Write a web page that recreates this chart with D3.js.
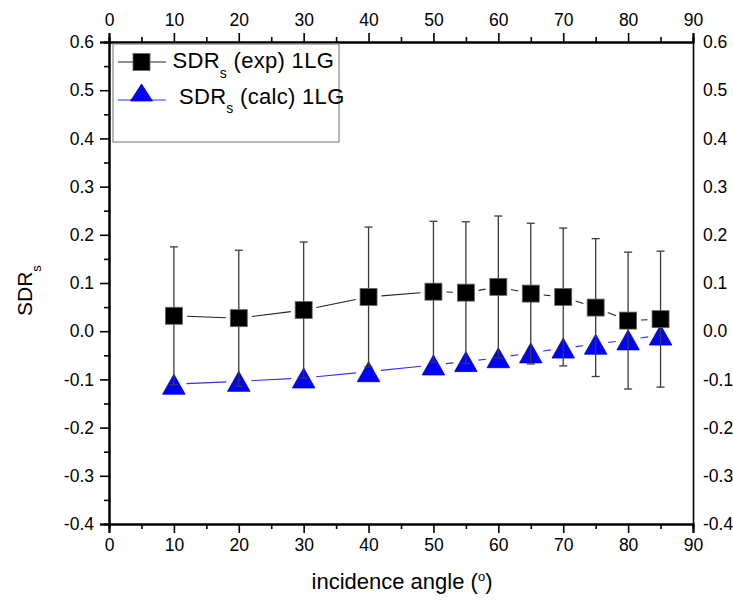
<!DOCTYPE html>
<html>
<head>
<meta charset="utf-8">
<script src="https://cdn.jsdelivr.net/npm/d3@7"></script>
<style>
  html, body { margin: 0; padding: 0; background: #fff; }
  svg { display: block; font-family: "Liberation Sans", Arial, sans-serif; }
</style>
</head>
<body>
<svg id="chart" width="733" height="603"></svg>
<script>
// Incidence angles (degrees)
const angles = [10, 20, 30, 40, 50, 55, 60, 65, 70, 75, 80, 85];
// Measured SDR_s and its uncertainty
const sdrExp = [0.032, 0.027, 0.044, 0.071, 0.082, 0.080, 0.092, 0.078, 0.071, 0.049, 0.022, 0.025];
const sdrExpErr = [0.143, 0.141, 0.141, 0.145, 0.146, 0.147, 0.147, 0.146, 0.143, 0.143, 0.142, 0.141];
// Calculated SDR_s
const sdrCalc = [-0.110, -0.104, -0.097, -0.084, -0.070, -0.063, -0.055, -0.045, -0.035, -0.027, -0.018, -0.008];

const xTicks = [0, 10, 20, 30, 40, 50, 60, 70, 80, 90];
const xMinor = [5, 15, 25, 35, 45, 55, 65, 75, 85];
const yTicks = [-0.4, -0.3, -0.2, -0.1, 0.0, 0.1, 0.2, 0.3, 0.4, 0.5, 0.6];
const yMinor = [-0.35, -0.25, -0.15, -0.05, 0.05, 0.15, 0.25, 0.35, 0.45, 0.55];

const svg = d3.select("#chart");
const L = 109, R = 693, T = 42, B = 524;

const x = d3.scaleLinear().domain([0, 90]).range([L, R]);
const y = d3.scaleLinear().domain([-0.4, 0.6]).range([B, T]);
// plain hyphen for negative labels
const fmtY = v => d3.format(".1f")(v).replace("\u2212", "-");

const pts = angles.map((a, i) => ({ a, e: sdrExp[i], err: sdrExpErr[i], c: sdrCalc[i] }));

// Axes: left, bottom, top with outward ticks; right axis shows labels only
function drawAxis(axis, transform) {
  const g = svg.append("g").attr("transform", transform).call(axis);
  g.select(".domain").attr("stroke", "#000").attr("stroke-width", 2);
  g.selectAll(".tick line").attr("stroke", "#000").attr("stroke-width", 1.6);
  g.selectAll(".tick text").attr("fill", "#000").style("font-size", "17.5px")
    .style("font-family", "'Liberation Sans', Arial, sans-serif");
  return g;
}

// minor ticks first (no labels)
drawAxis(d3.axisLeft(y).tickValues(yMinor).tickSize(5).tickFormat(""), `translate(${L},0)`);
drawAxis(d3.axisBottom(x).tickValues(xMinor).tickSize(5).tickFormat(""), `translate(0,${B})`);
drawAxis(d3.axisTop(x).tickValues(xMinor).tickSize(5).tickFormat(""), `translate(0,${T})`);

drawAxis(d3.axisLeft(y).tickValues(yTicks).tickSize(9).tickPadding(6).tickFormat(fmtY), `translate(${L},0)`);
drawAxis(d3.axisBottom(x).tickValues(xTicks).tickSize(9).tickPadding(6).tickFormat(d3.format("d")), `translate(0,${B})`);
drawAxis(d3.axisTop(x).tickValues(xTicks).tickSize(9).tickPadding(7).tickFormat(d3.format("d")), `translate(0,${T})`);
const gr = drawAxis(d3.axisRight(y).tickValues(yTicks).tickSize(0).tickPadding(10).tickFormat(fmtY), `translate(${R},0)`);
gr.select(".domain").attr("stroke-width", 1.6);

// Connecting lines drawn with small gaps around the symbols
function gappedSegments(key, gap) {
  const segs = [];
  for (let i = 0; i < pts.length - 1; i++) {
    const x1 = x(pts[i].a), y1 = y(pts[i][key]);
    const x2 = x(pts[i + 1].a), y2 = y(pts[i + 1][key]);
    const len = Math.hypot(x2 - x1, y2 - y1);
    if (len <= 2 * gap) continue;
    const ux = (x2 - x1) / len, uy = (y2 - y1) / len;
    segs.push([x1 + ux * gap, y1 + uy * gap, x2 - ux * gap, y2 - uy * gap]);
  }
  return segs;
}

const plot = svg.append("g");

// calculated series: line + triangles
plot.selectAll("line.calc").data(gappedSegments("c", 12.5)).join("line")
  .attr("x1", d => d[0]).attr("y1", d => d[1]).attr("x2", d => d[2]).attr("y2", d => d[3])
  .attr("stroke", "#3030ff").attr("stroke-width", 1.1);

const triW = 22.5, triH = 20;
function triPath(cx, cy, w, h) {
  return `M${cx},${cy - h / 2}L${cx + w / 2},${cy + h / 2}L${cx - w / 2},${cy + h / 2}Z`;
}
plot.selectAll("path.tri").data(pts).join("path")
  .attr("d", d => triPath(x(d.a), y(d.c), triW, triH))
  .attr("fill", "#0000ff").attr("stroke", "#0000c8").attr("stroke-width", 0.8);

// measured series: line
plot.selectAll("line.exp").data(gappedSegments("e", 13)).join("line")
  .attr("x1", d => d[0]).attr("y1", d => d[1]).attr("x2", d => d[2]).attr("y2", d => d[3])
  .attr("stroke", "#222").attr("stroke-width", 1.1);

// error bars
const cap = 4;
const eb = plot.selectAll("g.err").data(pts).join("g").attr("stroke", "#3a3a3a").attr("stroke-width", 1.3);
eb.append("line").attr("x1", d => x(d.a)).attr("x2", d => x(d.a))
  .attr("y1", d => y(d.e + d.err)).attr("y2", d => y(d.e - d.err));
eb.append("line").attr("x1", d => x(d.a) - cap).attr("x2", d => x(d.a) + cap)
  .attr("y1", d => y(d.e + d.err)).attr("y2", d => y(d.e + d.err));
eb.append("line").attr("x1", d => x(d.a) - cap).attr("x2", d => x(d.a) + cap)
  .attr("y1", d => y(d.e - d.err)).attr("y2", d => y(d.e - d.err));

// squares
const sq = 17;
plot.selectAll("rect.sq").data(pts).join("rect")
  .attr("x", d => x(d.a) - sq / 2).attr("y", d => y(d.e) - sq / 2)
  .attr("width", sq).attr("height", sq)
  .attr("fill", "#000").attr("stroke", "#666").attr("stroke-width", 0.8);

// Legend
const lg = svg.append("g");
lg.append("rect").attr("x", 113).attr("y", 44).attr("width", 226).attr("height", 98)
  .attr("fill", "#fff").attr("stroke", "#888").attr("stroke-width", 1.2);

lg.append("line").attr("x1", 118).attr("x2", 166).attr("y1", 62).attr("y2", 62)
  .attr("stroke", "#222").attr("stroke-width", 1.1);
lg.append("rect").attr("x", 141.5 - sq / 2).attr("y", 62 - sq / 2).attr("width", sq).attr("height", sq)
  .attr("fill", "#000").attr("stroke", "#666").attr("stroke-width", 0.8);

lg.append("line").attr("x1", 118).attr("x2", 166).attr("y1", 100).attr("y2", 100)
  .attr("stroke", "#3030ff").attr("stroke-width", 1.1);
lg.append("path").attr("d", triPath(141.5, 92.5, 22, 17))
  .attr("fill", "#0000ff").attr("stroke", "#0000c8").attr("stroke-width", 0.8);

function subLabel(g, tx, ty, main, sub, rest, size) {
  const t = g.append("text").attr("x", tx).attr("y", ty).attr("fill", "#000")
    .style("font-size", size + "px");
  t.append("tspan").text(main);
  t.append("tspan").attr("dy", size * 0.45).style("font-size", Math.round(size * 0.62) + "px").text(sub);
  if (rest) t.append("tspan").attr("dy", -size * 0.45).text(rest);
  return t;
}
subLabel(lg, 172.5, 68, "SDR", "s", "\u00a0(exp) 1LG", 22).style("letter-spacing", "0.3px");
subLabel(lg, 179, 103.5, "SDR", "s", "\u00a0(calc) 1LG", 22).style("letter-spacing", "0.3px");

// Axis titles
const xt = svg.append("text").attr("x", 402).attr("y", 589).attr("text-anchor", "middle")
  .attr("fill", "#000").style("font-size", "22px");
xt.append("tspan").text("incidence angle (");
xt.append("tspan").attr("dy", -8).style("font-size", "13px").text("o");
xt.append("tspan").attr("dy", 8).text(")");

const ytg = svg.append("g").attr("transform", "translate(32,316) rotate(-90)");
subLabel(ytg, 0, 0, "SDR", "s", null, 21);
</script>
</body>
</html>
